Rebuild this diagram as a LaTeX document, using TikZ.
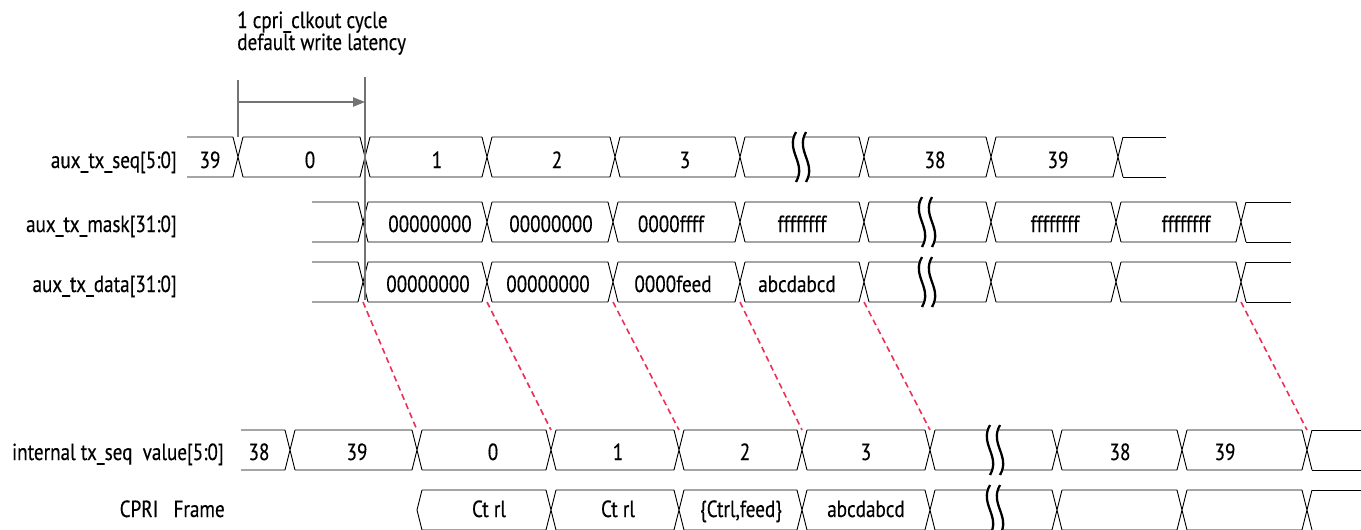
\documentclass[tikz,border=0pt]{standalone}
\usepackage{fontspec}
\setmainfont{PT Sans}[FakeStretch=0.82,FakeBold=0.3]
\usetikzlibrary{positioning,arrows.meta}
\definecolor{mapred}{HTML}{EC2F57}

% one bus row: top, bottom, start, crossings, end
\newcommand\busrow[5]{%
  \foreach \x [evaluate=\x as \nx using \x+5, remember=\nx as \px (initially #3)] in {#4} {%
    \draw[sig] (\px,#1) -- ({\x-5},#1) (\px,#2) -- ({\x-5},#2)
      ({\x-5},#1) -- ({\x+5},#2) ({\x-5},#2) -- ({\x+5},#1);
    \xdef\busend{\nx}}%
  \draw[sig] (\busend,#1) -- (#5,#1) (\busend,#2) -- (#5,#2);}
% break mark: x, top, bottom
\newcommand\busbreak[3]{%
  \fill[white] ({#1-5},{#2-5}) .. controls ({#1-16},{#2+14}) and ({#1+6},{#3-14}) .. ({#1-5},{#3+5})
    -- ({#1+5},{#3+5}) .. controls ({#1+16},{#3-14}) and ({#1-6},{#2+14}) .. ({#1+5},{#2-5}) -- cycle;
  \draw[brk] ({#1-5},{#2-5}) .. controls ({#1-16},{#2+14}) and ({#1+6},{#3-14}) .. ({#1-5},{#3+5});
  \draw[brk] ({#1+5},{#2-5}) .. controls ({#1-6},{#2+14}) and ({#1+16},{#3-14}) .. ({#1+5},{#3+5});}

\begin{document}
\begin{tikzpicture}[
  x=0.75pt,y=-0.75pt,
  font=\fontsize{17.5}{16.5}\selectfont,
  sig/.style={black,line width=0.7pt},
  brk/.style={black,line width=1.7pt},
  guide/.style={black!55,line width=0.8pt},
  latency/.style={guide,-{Triangle[length=9pt,width=7pt]}},
  map/.style={mapred,line width=1.2pt,dash pattern=on 4.5pt off 3pt},
  sname/.style={anchor=base east,inner sep=0pt},
  val/.style={anchor=base,inner sep=0pt}
]
\useasboundingbox (0,0) rectangle (1361,529);
\clip (0,0) rectangle (1361,529);

% latency annotation
\node[anchor=base west,inner sep=0pt,align=left] (lat) at (237,50) {1 cpri\_clkout cycle\\default write latency};
\coordinate (w0) at (238,80);  \coordinate (w0b) at (238,137);
\coordinate (w1) at (365,77);  \coordinate (w1b) at (365,300);
\coordinate (a0) at (239,102); \coordinate (a1) at (365,102);

% signal names
\node[sname] (seqlbl)   at (177,168) {aux\_tx\_seq[5:0]};
\node[sname] (masklbl)  at (177,232) {aux\_tx\_mask[31:0]};
\node[sname] (datalbl)  at (177,292) {aux\_tx\_data[31:0]};
\node[sname] (intlbl)   at (224,460) {internal tx\_seq\ \ value[5:0]};
\node[sname] (framelbl) at (225,517) {CPRI\ \ \ Frame};

% buses
\busrow{137}{177}{187}{238,365,487,615,740,864,991,1118}{1166}
\busrow{202}{242}{312}{363,487,613,740,864,991,1116,1241}{1291}
\busrow{262}{302}{312}{363,487,613,740,864,991,1116,1241}{1291}
\busrow{430}{470}{241}{290,417,551,679,802,930,1057,1182,1307}{1362}
\busrow{490}{530}{422}{551,679,802,930,1057,1182,1307}{1362}
\draw[sig] (422,490) -- (417,510) -- (422,530);
\busbreak{801}{137}{177}
\busbreak{927}{202}{242}
\busbreak{927}{262}{302}
\busbreak{995}{430}{470}
\busbreak{995}{490}{530}

% values
\foreach \x/\t [count=\i] in {210/39,310/0,437/1,557/2,685/3,935/38,1058/39}
  \node[val] (seqv\i) at (\x,168) {\t};
\foreach \x/\t [count=\i] in {430/00000000,551/00000000,671/0000ffff,802/ffffffff,1055/ffffffff,1186/ffffffff}
  \node[val] (maskv\i) at (\x,232) {\t};
\foreach \x/\t [count=\i] in {428/00000000,548/00000000,673/0000feed,797/abcdabcd}
  \node[val] (datav\i) at (\x,292) {\t};
\foreach \x/\t [count=\i] in {259/38,357/39,493/0,618/1,745/2,866/3,1120/38,1225/39}
  \node[val] (intv\i) at (\x,460) {\t};
\foreach \x/\t [count=\i] in {489/Ct rl,618/Ct rl,741/{\{Ctrl,feed\}},866/abcdabcd}
  \node[val] (framev\i) at (\x,517) {\t};

% latency marks
\draw[guide] (w0) -- (w0b);
\draw[guide] (w1) -- (w1b);
\draw[latency] (a0) -- (a1);

% data to internal sequence
\foreach \i/\x in {1/363,2/487,3/613,4/740,5/864,6/1241}
  \coordinate (dat\i) at (\x,302);
\foreach \i/\x in {1/417,2/551,3/679,4/802,5/930,6/1307}
  \coordinate (seq\i) at (\x,430);
\foreach \i in {1,...,6}
  \draw[map] (dat\i) -- (seq\i);
\end{tikzpicture}
\end{document}
